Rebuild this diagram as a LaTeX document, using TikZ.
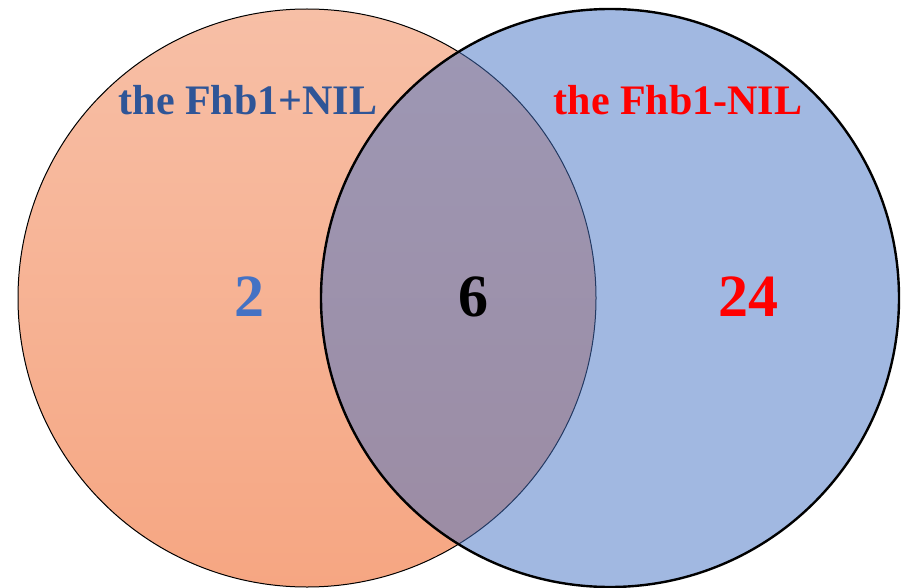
\documentclass[tikz,border=0pt]{standalone}
\usepackage{fontspec}
\setmainfont{Liberation Serif}
\usetikzlibrary{positioning}
\definecolor{setblue}{HTML}{4472C4}
\definecolor{labelblue}{HTML}{2F5597}
\definecolor{numblue}{HTML}{4472C4}
\definecolor{peachtop}{RGB}{247,191,166}
\definecolor{peachbot}{RGB}{246,166,130}
\begin{document}
\begin{tikzpicture}[x=1pt,y=-1pt,
 setcircle/.style={circle,inner sep=0pt,minimum size=578pt},
 setname/.style={font=\fontsize{42}{42}\selectfont\bfseries},
 setcount/.style={font=\fontsize{60}{60}\selectfont\bfseries}]
\useasboundingbox (0,0) rectangle (904,588);
\node[setcircle,top color=peachtop,bottom color=peachbot,draw=black,line width=1pt] (plus) at (307,298) {};
\node[setcircle,fill=setblue,fill opacity=.5,draw=black,line width=2.4pt] (minus) at (610,298) {};
\node[setname,text=labelblue] (plusname) at (248,100) {the Fhb1+NIL};
\node[setname,text=red] (minusname) at (678,100) {the Fhb1-NIL};
\node[setcount,text=numblue] (onlyplus) at (249,297) {2};
\node[setcount,text=black] (both) at (473,297) {6};
\node[setcount,text=red] (onlyminus) at (748,297) {24};
\end{tikzpicture}
\end{document}
